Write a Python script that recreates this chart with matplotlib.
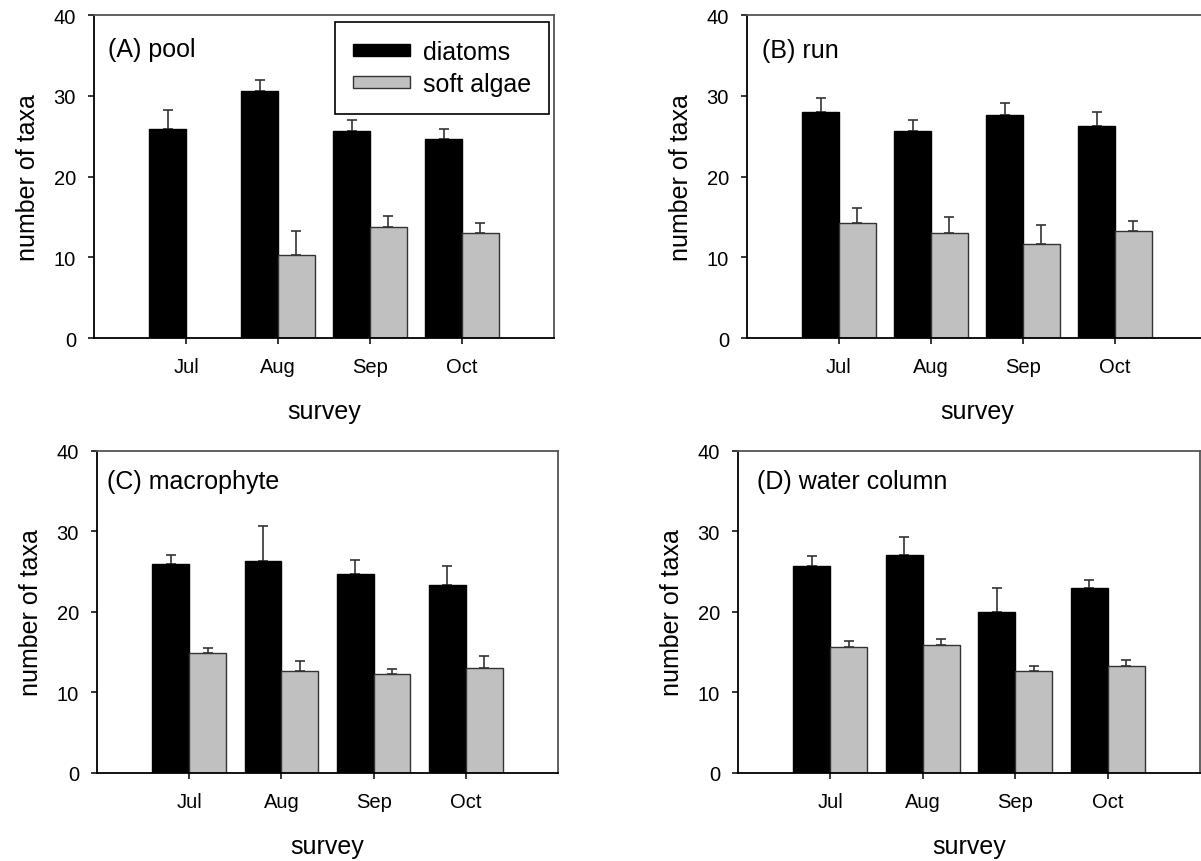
'''
    Number of diatom and soft algae taxa per survey month
    for four habitats (mean + SE).
'''
import numpy as np
import matplotlib
matplotlib.use('Agg')
import matplotlib.pyplot as plt

plt.rcParams['font.family'] = ['Liberation Sans', 'DejaVu Sans']

months = ['Jul', 'Aug', 'Sep', 'Oct']

pool_diatoms = [25.9, 30.6, 25.6, 24.6]
pool_diatoms_se = [2.3, 1.3, 1.45, 1.25]
pool_soft = [np.nan, 10.3, 13.7, 13.0]
pool_soft_se = [np.nan, 3.0, 1.45, 1.2]

run_diatoms = [27.95, 25.6, 27.6, 26.3]
run_diatoms_se = [1.75, 1.45, 1.45, 1.75]
run_soft = [14.3, 13.0, 11.65, 13.3]
run_soft_se = [1.8, 2.0, 2.35, 1.25]

macro_diatoms = [26.0, 26.35, 24.7, 23.35]
macro_diatoms_se = [1.1, 4.3, 1.7, 2.35]
macro_soft = [14.95, 12.65, 12.3, 13.0]
macro_soft_se = [0.6, 1.2, 0.65, 1.5]

water_diatoms = [25.7, 27.05, 20.0, 23.0]
water_diatoms_se = [1.2, 2.3, 3.0, 1.0]
water_soft = [15.65, 15.95, 12.65, 13.3]
water_soft_se = [0.7, 0.65, 0.7, 0.7]

panel_titles = ['(A) pool', '(B) run', '(C) macrophyte', '(D) water column']


def draw_panel(ax, title, diatoms, diatoms_se, soft, soft_se, title_x, title_y):
    """
        Draws one habitat panel: paired bars with upper error bars.
    """
    pos = np.arange(1, len(months) + 1)
    width = 0.4
    err_kw = dict(ecolor='#333333', elinewidth=1.2, capsize=3.9, capthick=1.2)

    ax.bar(pos - width / 2, diatoms, width, color='black', edgecolor='black',
           linewidth=1.0, label='diatoms', zorder=2)
    ax.bar(pos + width / 2, soft, width, color='#c0c0c0', edgecolor='#333333',
           linewidth=1.0, label='soft algae', zorder=2)
    ax.errorbar(pos - width / 2, diatoms,
                yerr=[np.zeros(len(diatoms)), diatoms_se],
                fmt='none', zorder=1, **err_kw)
    ax.errorbar(pos + width / 2, soft,
                yerr=[np.zeros(len(soft)), soft_se],
                fmt='none', zorder=1, **err_kw)

    ax.set_xlim(0, 5)
    ax.set_ylim(0, 40)
    ax.set_xticks(pos)
    ax.set_xticklabels(months)
    ax.set_yticks([0, 10, 20, 30, 40])
    ax.tick_params(axis='x', direction='out', length=4, width=1.1,
                   pad=10, labelsize=14.5)
    ax.tick_params(axis='y', direction='out', length=4, width=1.1,
                   pad=9, labelsize=14.5)

    for side in ['left', 'bottom']:
        ax.spines[side].set_color('black')
        ax.spines[side].set_linewidth(1.3)
    for side in ['top', 'right']:
        ax.spines[side].set_color('#555555')
        ax.spines[side].set_linewidth(1.3)

    ax.set_xlabel('survey', fontsize=18, labelpad=16)
    ax.set_ylabel('number of taxa', fontsize=18, labelpad=10)
    ax.text(title_x, title_y, title, transform=ax.transAxes,
            ha='left', va='center', fontsize=18)


def main():
    fig = plt.figure(figsize=(12.01, 8.62), dpi=100)

    ax_a = fig.add_axes([0.0783, 0.6067, 0.3830, 0.3747])
    ax_b = fig.add_axes([0.6220, 0.6067, 0.3830, 0.3747])
    ax_c = fig.add_axes([0.0808, 0.1021, 0.3838, 0.3736])
    ax_d = fig.add_axes([0.6145, 0.1021, 0.3847, 0.3736])

    draw_panel(ax_a, panel_titles[0], pool_diatoms, pool_diatoms_se,
               pool_soft, pool_soft_se, 0.030, 0.895)
    draw_panel(ax_b, panel_titles[1], run_diatoms, run_diatoms_se,
               run_soft, run_soft_se, 0.033, 0.892)
    draw_panel(ax_c, panel_titles[2], macro_diatoms, macro_diatoms_se,
               macro_soft, macro_soft_se, 0.021, 0.906)
    draw_panel(ax_d, panel_titles[3], water_diatoms, water_diatoms_se,
               water_soft, water_soft_se, 0.041, 0.907)

    leg = ax_a.legend(loc='upper right', bbox_to_anchor=(0.989, 0.979),
                      borderaxespad=0, fontsize=18, fancybox=False,
                      framealpha=1, edgecolor='black', handlelength=2.3,
                      handleheight=0.4, handletextpad=0.5, labelspacing=0.32,
                      borderpad=0.72)
    leg.get_frame().set_linewidth(1.2)

    fig.savefig('out.png', dpi=100)


if __name__ == '__main__':
    main()
